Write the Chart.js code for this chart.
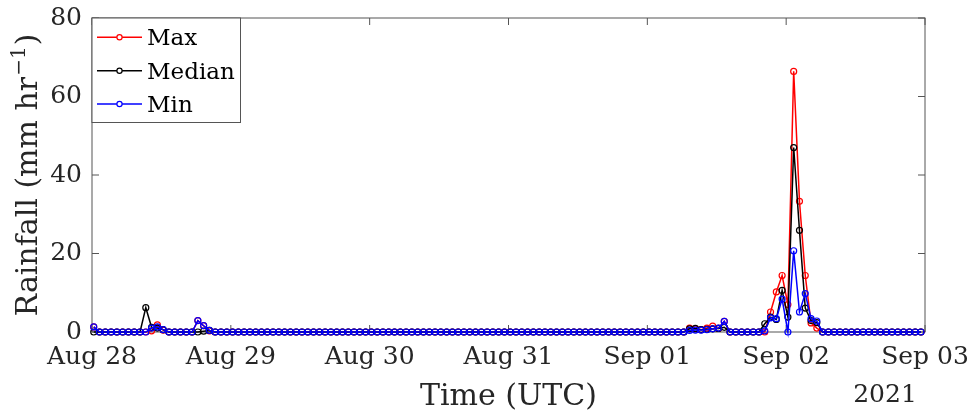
<!DOCTYPE html>
<html>
<head>
<meta charset="utf-8">
<script src="https://cdn.jsdelivr.net/npm/chart.js@4.4.0/dist/chart.umd.min.js"></script>
<style>
  body { margin: 0; background: #fff; }
  #wrap { width: 969px; height: 414px; }
</style>
</head>
<body>
<div id="wrap"><canvas id="rainChart" width="969" height="414"></canvas></div>
<script>
// hourly rainfall from Aug 28 to Sep 03 UTC (one row per day)
// samples are stamped a little after the full hour
const hourOffset = 0.3;
const dayLabels = ['Aug 28', 'Aug 29', 'Aug 30', 'Aug 31', 'Sep 01', 'Sep 02', 'Sep 03'];
const yTicks = [0, 20, 40, 60, 80];

const maxRain = [
  1.3, 0, 0, 0, 0, 0, 0, 0, 0, 0, 0.3, 1.8, 0.5, 0, 0, 0, 0, 0, 2.9, 1.6, 0.3, 0, 0, 0,
  0, 0, 0, 0, 0, 0, 0, 0, 0, 0, 0, 0, 0, 0, 0, 0, 0, 0, 0, 0, 0, 0, 0, 0,
  0, 0, 0, 0, 0, 0, 0, 0, 0, 0, 0, 0, 0, 0, 0, 0, 0, 0, 0, 0, 0, 0, 0, 0,
  0, 0, 0, 0, 0, 0, 0, 0, 0, 0, 0, 0, 0, 0, 0, 0, 0, 0, 0, 0, 0, 0, 0, 0,
  0, 0, 0, 0, 0, 0, 0, 1.0, 0.8, 0.6, 1.0, 1.5, 0.9, 2.7, 0, 0, 0, 0, 0, 0, 0, 5.1, 10.2, 14.4,
  7.0, 66.4, 33.3, 14.4, 2.3, 1.0, 0, 0, 0, 0, 0, 0, 0, 0, 0, 0, 0, 0, 0, 0, 0, 0, 0, 0
];

const medianRain = [
  0, 0, 0, 0, 0, 0, 0, 0, 0, 6.2, 1.2, 1.0, 0.6, 0, 0, 0, 0, 0, 0, 0.2, 0.4, 0, 0, 0,
  0, 0, 0, 0, 0, 0, 0, 0, 0, 0, 0, 0, 0, 0, 0, 0, 0, 0, 0, 0, 0, 0, 0, 0,
  0, 0, 0, 0, 0, 0, 0, 0, 0, 0, 0, 0, 0, 0, 0, 0, 0, 0, 0, 0, 0, 0, 0, 0,
  0, 0, 0, 0, 0, 0, 0, 0, 0, 0, 0, 0, 0, 0, 0, 0, 0, 0, 0, 0, 0, 0, 0, 0,
  0, 0, 0, 0, 0, 0, 0, 0.8, 0.9, 0.6, 0.7, 0.8, 0.9, 1.2, 0, 0, 0, 0, 0, 0, 2.1, 3.8, 3.2, 10.6,
  3.8, 47.0, 25.9, 6.1, 2.9, 2.4, 0, 0, 0, 0, 0, 0, 0, 0, 0, 0, 0, 0, 0, 0, 0, 0, 0, 0
];

const minRain = [
  1.3, 0, 0, 0, 0, 0, 0, 0, 0, 0, 1.0, 1.3, 0.6, 0, 0, 0, 0, 0, 2.9, 1.6, 0.4, 0, 0, 0,
  0, 0, 0, 0, 0, 0, 0, 0, 0, 0, 0, 0, 0, 0, 0, 0, 0, 0, 0, 0, 0, 0, 0, 0,
  0, 0, 0, 0, 0, 0, 0, 0, 0, 0, 0, 0, 0, 0, 0, 0, 0, 0, 0, 0, 0, 0, 0, 0,
  0, 0, 0, 0, 0, 0, 0, 0, 0, 0, 0, 0, 0, 0, 0, 0, 0, 0, 0, 0, 0, 0, 0, 0,
  0, 0, 0, 0, 0, 0, 0, 0.4, 0.5, 0.5, 0.6, 0.8, 1.0, 2.7, 0, 0, 0, 0, 0, 0, 0.3, 3.6, 3.4, 8.4,
  0, 20.7, 5.1, 9.8, 3.4, 2.8, 0, 0, 0, 0, 0, 0, 0, 0, 0, 0, 0, 0, 0, 0, 0, 0, 0, 0
];

const seriesNames = ['Max', 'Median', 'Min'];
const seriesColors = ['#ff0000', '#000000', '#0000ff'];

const SERIF = '"DejaVu Serif", "Liberation Serif", serif';
const TEXT = '#262626';

function asPoints(values) {
  return values.map((v, i) => ({ x: i + hourOffset, y: v }));
}

function makeSet(label, values, color, order) {
  return {
    label: label,
    data: asPoints(values),
    borderColor: color,
    borderWidth: 1.5,
    pointStyle: 'circle',
    pointRadius: 3,
    pointBorderWidth: 1.2,
    pointBorderColor: color,
    pointBackgroundColor: 'rgba(255,255,255,0)',
    pointHoverRadius: 3,
    tension: 0,
    clip: false,
    order: order
  };
}

const framePlugin = {
  id: 'frame',
  beforeDatasetsDraw(chart) {
    const { ctx, chartArea: a, scales: { x, y } } = chart;
    ctx.save();
    ctx.strokeStyle = '#555';
    ctx.lineWidth = 1;
    ctx.strokeRect(a.left, a.top, a.right - a.left, a.bottom - a.top);
    ctx.beginPath();
    x.ticks.forEach(t => {
      const px = x.getPixelForValue(t.value);
      ctx.moveTo(px, a.bottom); ctx.lineTo(px, a.bottom - 7);
      ctx.moveTo(px, a.top); ctx.lineTo(px, a.top + 7);
    });
    y.ticks.forEach(t => {
      const py = y.getPixelForValue(t.value);
      ctx.moveTo(a.left, py); ctx.lineTo(a.left + 7, py);
      ctx.moveTo(a.right, py); ctx.lineTo(a.right - 7, py);
    });
    ctx.stroke();
    ctx.restore();
  },
  afterDraw(chart) {
    const { ctx, chartArea: a } = chart;
    ctx.save();
    ctx.fillStyle = TEXT;

    // x title + year
    ctx.font = '30px ' + SERIF;
    ctx.textAlign = 'center';
    ctx.textBaseline = 'alphabetic';
    ctx.fillText('Time (UTC)', (a.left + a.right) / 2, 405);
    ctx.font = '25px ' + SERIF;
    ctx.fillText('2021', 885, 402);

    // y title with superscript
    ctx.save();
    ctx.translate(37, (a.top + a.bottom) / 2 + 1);
    ctx.rotate(-Math.PI / 2);
    ctx.textAlign = 'left';
    const p1 = 'Rainfall (mm hr', sup = '\u22121', p3 = ')';
    ctx.font = '30px ' + SERIF;
    const w1 = ctx.measureText(p1).width, w3 = ctx.measureText(p3).width;
    ctx.font = '20px ' + SERIF;
    const w2 = ctx.measureText(sup).width;
    let sx = -(w1 + w2 + w3) / 2;
    ctx.font = '30px ' + SERIF;
    ctx.fillText(p1, sx, 0);
    ctx.font = '20px ' + SERIF;
    ctx.fillText(sup, sx + w1 + 1, -12);
    ctx.font = '30px ' + SERIF;
    ctx.fillText(p3, sx + w1 + w2 + 2, 0);
    ctx.restore();

    // legend box
    const bx = a.left, by = a.top, bw = 148.5, bh = 104.5;
    ctx.fillStyle = '#fff';
    ctx.fillRect(bx, by, bw, bh);
    ctx.strokeStyle = '#555';
    ctx.lineWidth = 1;
    ctx.strokeRect(bx, by, bw, bh);
    const rows = [37.3, 70.7, 104];
    ctx.font = '23px ' + SERIF;
    ctx.textAlign = 'left';
    seriesNames.forEach((name, i) => {
      const ry = rows[i];
      ctx.strokeStyle = seriesColors[i];
      ctx.lineWidth = 1.5;
      ctx.beginPath();
      ctx.moveTo(97, ry); ctx.lineTo(142, ry);
      ctx.stroke();
      ctx.fillStyle = '#fff';
      ctx.beginPath();
      ctx.arc(119.5, ry, 2.6, 0, Math.PI * 2);
      ctx.fill();
      ctx.lineWidth = 1.2;
      ctx.stroke();
      ctx.fillStyle = '#000';
      ctx.fillText(name, 147, ry + 8);
    });
    ctx.restore();
  }
};

new Chart(document.getElementById('rainChart'), {
  type: 'line',
  data: {
    datasets: [
      makeSet(seriesNames[0], maxRain, seriesColors[0], 3),
      makeSet(seriesNames[1], medianRain, seriesColors[1], 2),
      makeSet(seriesNames[2], minRain, seriesColors[2], 1)
    ]
  },
  options: {
    responsive: false,
    animation: false,
    layout: { padding: { top: 18, right: 44, left: 0, bottom: 0 } },
    plugins: { legend: { display: false }, tooltip: { enabled: false } },
    scales: {
      x: {
        type: 'linear',
        min: 0,
        max: 144,
        grid: { display: false, drawTicks: false },
        border: { display: false },
        ticks: {
          stepSize: 24,
          autoSkip: false,
          maxRotation: 0,
          padding: 10,
          color: TEXT,
          font: { family: SERIF, size: 25 },
          callback: v => dayLabels[v / 24]
        },
        afterFit: s => { s.height = 82; s.paddingLeft = 0; s.paddingRight = 0; }
      },
      y: {
        min: 0,
        max: 80,
        grid: { display: false, drawTicks: false },
        border: { display: false },
        ticks: {
          stepSize: 20,
          padding: 10,
          color: TEXT,
          font: { family: SERIF, size: 25 },
          callback: v => yTicks.includes(v) ? String(v) : ''
        },
        afterFit: s => { s.width = 92; s.paddingTop = 0; s.paddingBottom = 0; }
      }
    }
  },
  plugins: [framePlugin]
});
</script>
</body>
</html>
